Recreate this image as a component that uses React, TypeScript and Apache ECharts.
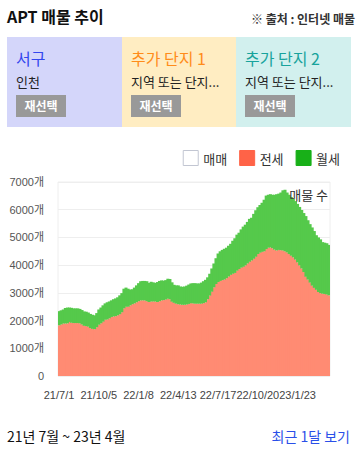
import React, { useEffect, useRef } from "react";
import * as echarts from "echarts";

// 전세 (jeonse) listing counts, one bar per 5 days starting 21/7/1
const jeonse = [
  1830, 1860, 1890, 1890, 1900, 1950, 1920, 1910, 1910, 1910,
  1900, 1860, 1810, 1800, 1780, 1730, 1700, 1690, 1760, 1850,
  1900, 1960, 2030, 2040, 2080, 2130, 2150, 2160, 2190, 2230,
  2300, 2440, 2500, 2500, 2550, 2590, 2620, 2660, 2700, 2730,
  2730, 2730, 2700, 2670, 2690, 2690, 2690, 2670, 2700, 2730,
  2740, 2760, 2790, 2770, 2680, 2640, 2610, 2590, 2580, 2570,
  2570, 2580, 2600, 2630, 2620, 2610, 2610, 2610, 2610, 2630,
  2660, 2770, 2900, 3040, 3200, 3320, 3390, 3430, 3460, 3480,
  3530, 3590, 3650, 3690, 3720, 3800, 3860, 3910, 3940, 3990,
  4060, 4120, 4170, 4230, 4300, 4400, 4450, 4480, 4500, 4580,
  4630, 4640, 4610, 4560, 4530, 4550, 4540, 4530, 4500, 4460,
  4400, 4340, 4280, 4200, 4100, 3990, 3880, 3750, 3580, 3480,
  3370, 3260, 3180, 3110, 3030, 2990, 2970, 2960, 2940, 2910,
];

// 월세 (wolse) listing counts, stacked on top of 전세
const wolse = [
  510, 510, 510, 560, 570, 520, 540, 530, 530, 530,
  520, 520, 520, 520, 510, 510, 510, 500, 510, 550,
  570, 590, 590, 620, 610, 600, 620, 640, 650, 680,
  690, 710, 690, 650, 570, 540, 570, 610, 650, 690,
  700, 700, 720, 690, 710, 690, 670, 720, 730, 720,
  700, 700, 720, 730, 700, 650, 660, 680, 650, 650,
  660, 680, 700, 710, 730, 740, 730, 730, 760, 790,
  810, 790, 790, 840, 860, 930, 1030, 1070, 1090, 1110,
  1100, 1110, 1120, 1190, 1250, 1300, 1310, 1380, 1450, 1470,
  1500, 1550, 1540, 1620, 1680, 1690, 1720, 1770, 1860, 1930,
  1910, 1920, 1930, 1980, 2030, 2030, 2080, 2170, 2220, 2160,
  2140, 2120, 2110, 2110, 2110, 2110, 2110, 2130, 2190, 2140,
  2110, 2100, 2050, 1970, 1970, 1940, 1860, 1850, 1850, 1820,
];

// 매매 series has no bars in this view
const maemae: number[] = [];

const yTicks = { min: 0, max: 7000, interval: 1000 };
const labelEvery = 19; // x labels: 21/7/1, 21/10/5, 22/1/8, 22/4/13, 22/7/17, 22/10/20, 23/1/23

// Category dates: 21/7/1, then every 5 days starting 21/7/7
function buildCategories(n: number): string[] {
  const out: string[] = [];
  const base = Date.UTC(2021, 6, 1);
  for (let i = 0; i < n; i++) {
    const offset = i === 0 ? 0 : 1 + 5 * i;
    const d = new Date(base + offset * 86400000);
    out.push(
      `${String(d.getUTCFullYear()).slice(2)}/${d.getUTCMonth() + 1}/${d.getUTCDate()}`
    );
  }
  return out;
}
const categories = buildCategories(jeonse.length);

const FONT = "'Noto Sans CJK KR', 'Noto Sans', sans-serif";
const AXIS_FONT = "'Liberation Sans', 'Noto Sans CJK KR', sans-serif";

const RED = "#FF8B73";
const GREEN = "#55C94B";

function Chart() {
  const ref = useRef<HTMLDivElement>(null);
  useEffect(() => {
    if (!ref.current) return;
    const chart = echarts.init(ref.current, undefined, { renderer: "svg" });
    chart.setOption({
      animation: false,
      textStyle: { fontFamily: FONT },
      legend: {
        right: 15,
        top: 10,
        itemWidth: 15,
        itemHeight: 15,
        itemGap: 12,
        textStyle: { fontSize: 13, color: "#333", fontFamily: FONT },
        data: [
          { name: "매매", icon: "rect", itemStyle: { color: "#ffffff", borderColor: "#c2c6d2", borderWidth: 1 } },
          { name: "전세", icon: "rect", itemStyle: { color: "#FF6347", borderColor: "#FF6347", borderWidth: 1 } },
          { name: "월세", icon: "rect", itemStyle: { color: "#18B018", borderColor: "#18B018", borderWidth: 1 } },
        ],
      },
      grid: {
        left: 58,
        right: 30,
        top: 47,
        bottom: 34,
        show: true,
        borderColor: "#eeeeee",
        borderWidth: 1,
      },
      graphic: [
        {
          type: "text",
          right: 32,
          top: 53,
          style: { text: "매물 수", fontSize: 13, fill: "#333", fontFamily: FONT },
          z: 100,
        },
      ],
      xAxis: {
        type: "category",
        data: categories,
        boundaryGap: true,
        axisLine: { show: false },
        axisTick: { show: false },
        axisLabel: {
          interval: labelEvery - 1,
          hideOverlap: false,
          margin: 13,
          fontSize: 11,
          color: "#444",
          fontFamily: AXIS_FONT,
        },
        splitLine: { show: false },
      },
      yAxis: {
        type: "value",
        min: yTicks.min,
        max: yTicks.max,
        interval: yTicks.interval,
        axisLine: { show: false },
        axisTick: { show: false },
        axisLabel: {
          margin: 14,
          fontSize: 11,
          color: "#555",
          fontFamily: AXIS_FONT,
          formatter: (v: number) => (v === 0 ? "0" : `${v}개`),
        },
        splitLine: { lineStyle: { color: "#eeeeee" } },
      },
      series: [
        {
          name: "매매",
          type: "bar",
          stack: "total",
          data: maemae,
          barWidth: 3,
          itemStyle: { color: "#ffffff", borderColor: "#c2c6d2" },
        },
        {
          name: "전세",
          type: "bar",
          stack: "total",
          data: jeonse,
          barWidth: 3,
          itemStyle: { color: RED },
        },
        {
          name: "월세",
          type: "bar",
          stack: "total",
          data: wolse,
          barWidth: 3,
          itemStyle: { color: GREEN },
        },
      ],
    });
    return () => chart.dispose();
  }, []);
  return <div ref={ref} style={{ position: "absolute", left: 0, top: 135, width: 360, height: 275 }} />;
}

const boxes = [
  { title: "서구", sub: "인천", bg: "#D4D6FA", color: "#3346EE", left: 7, width: 115 },
  { title: "추가 단지 1", sub: "지역 또는 단지...", bg: "#FFEDC2", color: "#FF8C1A", left: 122, width: 114 },
  { title: "추가 단지 2", sub: "지역 또는 단지...", bg: "#D2F0EE", color: "#18A39C", left: 236, width: 115 },
];

export default function App() {
  return (
    <div
      style={{
        position: "fixed",
        left: 0,
        top: 0,
        width: 360,
        height: 450,
        background: "#fff",
        fontFamily: FONT,
        color: "#111",
        overflow: "hidden",
      }}
    >
      <div style={{ position: "absolute", left: 7, top: 5, fontSize: 16, fontWeight: 700, lineHeight: "22px" }}>
        APT 매물 추이
      </div>
      <div style={{ position: "absolute", right: 5, top: 11, fontSize: 12, fontWeight: 600, color: "#333", lineHeight: "16px" }}>
        ※ 출처 : 인터넷 매물
      </div>
      {boxes.map((b) => (
        <div
          key={b.title}
          style={{ position: "absolute", left: b.left, top: 37, width: b.width, height: 90, background: b.bg }}
        >
          <div style={{ position: "absolute", left: 9, top: 11, fontSize: 16, color: b.color, lineHeight: "20px", whiteSpace: "nowrap" }}>
            {b.title}
          </div>
          <div style={{ position: "absolute", left: 9, top: 36, fontSize: 13, color: "#222", lineHeight: "18px", whiteSpace: "nowrap" }}>
            {b.sub}
          </div>
          <div
            style={{
              position: "absolute",
              left: 9,
              top: 58,
              width: 50,
              height: 22,
              background: "#999",
              color: "#fff",
              fontSize: 12,
              fontWeight: 700,
              lineHeight: "22px",
              textAlign: "center",
            }}
          >
            재선택
          </div>
        </div>
      ))}
      <Chart />
      <div style={{ position: "absolute", left: 7, top: 427, fontSize: 14, color: "#111", lineHeight: "18px" }}>
        21년 7월 ~ 23년 4월
      </div>
      <div style={{ position: "absolute", right: 10, top: 427, fontSize: 14, color: "#2A4FE8", lineHeight: "18px" }}>
        최근 1달 보기
      </div>
    </div>
  );
}
